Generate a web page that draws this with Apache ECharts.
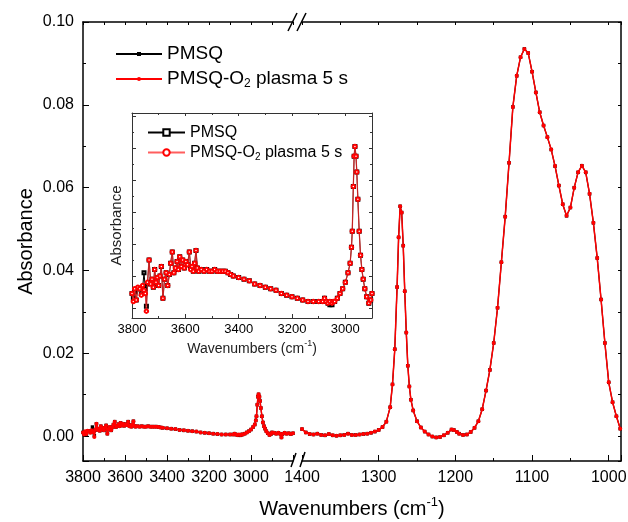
<!DOCTYPE html>
<html><head><meta charset="utf-8">
<script src="https://cdn.jsdelivr.net/npm/echarts@6/dist/echarts.min.js"></script>
<style>html,body{margin:0;padding:0;background:#fff}#c{width:628px;height:522px}</style>
</head><body><div id="c"></div>
<script>
// ---- data: high-wavenumber segment (3800-2800 cm-1) ----
const leftWn = [3800,3795,3790,3784,3778,3771,3765,3760,3755,3750,
  3746,3742,3736,3730,3725,3720,3715,3710,3705,3700,
  3695,3690,3684,3678,3672,3666,3660,3655,3649,3643,
  3637,3631,3626,3621,3615,3610,3604,3598,3592,3585,
  3580,3575,3570,3565,3560,3555,3550,3540,3530,3520,
  3510,3500,3490,3480,3470,3460,3450,3440,3430,3420,
  3400,3380,3360,3340,3320,3300,3280,3260,3240,3220,
  3200,3180,3160,3140,3120,3100,3085,3078,3072,3065,
  3058,3050,3045,3040,3030,3020,3010,3000,2990,2982,
  2977,2974,2970,2967,2964,2960,2957,2953,2948,2943,
  2938,2933,2927,2920,2912,2905,2900,2890,2880,2870,
  2862,2855,2850,2840,2830,2820,2810,2800];
const plasmaLeft = [0.0009,0.0004,0.0012,0.0005,0.0013,0.0012,0.0008,0.0014,0.0011,0.0009,
  -0.0002,0.0016,0.0030,0.0015,0.0018,0.0013,0.0024,0.0016,0.0019,0.0014,
  0.0020,0.0026,0.0006,0.0018,0.0022,0.0014,0.0021,0.0028,0.0035,0.0022,
  0.0025,0.0029,0.0024,0.0032,0.0026,0.0030,0.0025,0.0029,0.0027,0.0035,
  0.0024,0.0026,0.0023,0.0028,0.0036,0.0025,0.0023,0.0024,0.0023,0.0024,
  0.0023,0.0023,0.0024,0.0023,0.0023,0.0023,0.0023,0.0022,0.0021,0.0020,
  0.0019,0.0018,0.0017,0.0015,0.0014,0.0013,0.0012,0.0011,0.0009,0.0008,
  0.0007,0.0006,0.0005,0.0004,0.0004,0.0004,0.0004,0.0006,0.0004,0.0003,
  0.0004,0.0003,0.0004,0.0004,0.0006,0.0009,0.0012,0.0016,0.0022,0.0028,
  0.0038,0.0048,0.0076,0.0095,0.0101,0.0095,0.0085,0.0068,0.0048,0.0033,
  0.0024,0.0018,0.0012,0.0007,0.0003,0.0005,0.0009,0.0008,0.0006,0.0008,
  0.0006,-0.0003,0.0005,0.0008,0.0006,0.0007,0.0005,0.0007];
const pmsqLeft = [0.0009,0.0006,0.0010,0.0005,0.0012,0.0012,0.0009,0.0013,0.0022,0.0012,
  0.0001,0.0015,0.0030,0.0016,0.0018,0.0013,0.0024,0.0016,0.0019,0.0014,
  0.0020,0.0026,0.0006,0.0018,0.0022,0.0014,0.0021,0.0028,0.0035,0.0022,
  0.0025,0.0029,0.0024,0.0032,0.0026,0.0030,0.0025,0.0029,0.0027,0.0035,
  0.0026,0.0026,0.0023,0.0028,0.0036,0.0025,0.0023,0.0024,0.0023,0.0024,
  0.0023,0.0023,0.0024,0.0023,0.0023,0.0023,0.0023,0.0022,0.0021,0.0020,
  0.0019,0.0018,0.0017,0.0015,0.0014,0.0013,0.0012,0.0011,0.0009,0.0008,
  0.0007,0.0006,0.0005,0.0004,0.0004,0.0004,0.0004,0.0006,0.0004,0.0003,
  0.0002,0.0002,0.0004,0.0004,0.0006,0.0009,0.0012,0.0016,0.0022,0.0028,
  0.0038,0.0048,0.0076,0.0095,0.0101,0.0095,0.0085,0.0068,0.0048,0.0033,
  0.0024,0.0018,0.0012,0.0007,0.0003,0.0005,0.0009,0.0008,0.0006,0.0008,
  0.0006,-0.0003,0.0005,0.0008,0.0006,0.0007,0.0005,0.0007];

// ---- data: fingerprint segment (1400-985 cm-1) ----
const rightWn = [1400,1395,1390,1385,1380,1375,1370,1365,1360,1355,
  1350,1345,1340,1335,1330,1325,1320,1315,1310,1305,
  1300,1295,1290,1285,1282,1279,1276,1274,1272,1270,
  1268,1266,1264,1262,1260,1258,1255,1250,1245,1240,
  1235,1230,1225,1220,1215,1210,1205,1202,1198,1195,
  1190,1185,1180,1175,1170,1165,1160,1155,1150,1145,
  1140,1135,1130,1125,1120,1115,1110,1105,1100,1095,
  1090,1085,1080,1075,1070,1065,1060,1055,1050,1045,
  1040,1035,1030,1025,1020,1015,1010,1005,1000,995,
  990,985];
const plasmaRight = [0.0017,0.0009,0.0005,0.0004,0.0006,0.0003,0.0002,0.0005,0.0002,0.0001,
  0.0002,0.0003,0.0006,0.0003,0.0003,0.0004,0.0005,0.0006,0.0008,0.0011,
  0.0015,0.0022,0.0035,0.0070,0.0125,0.0210,0.0360,0.0480,0.0555,0.0540,
  0.0460,0.0350,0.0250,0.0170,0.0120,0.0088,0.0062,0.0036,0.0021,0.0011,
  0.0004,-0.0001,-0.0003,-0.0002,0.0002,0.0008,0.0016,0.0015,0.0010,0.0006,
  0.0003,0.0004,0.0010,0.0020,0.0036,0.0065,0.0110,0.0160,0.0225,0.0310,
  0.0420,0.0530,0.0660,0.0795,0.0870,0.0915,0.0935,0.0925,0.0880,0.0830,
  0.0782,0.0750,0.0722,0.0692,0.0652,0.0605,0.0560,0.0532,0.0552,0.0600,
  0.0637,0.0653,0.0637,0.0585,0.0515,0.0430,0.0330,0.0225,0.0130,0.0082,
  0.0048,0.0018];
const pmsqRight = [0.0017,0.0009,0.0005,0.0004,0.0006,0.0003,0.0002,0.0005,0.0002,0.0001,
  0.0002,0.0003,0.0006,0.0003,0.0003,0.0004,0.0005,0.0006,0.0008,0.0011,
  0.0015,0.0022,0.0035,0.0070,0.0125,0.0210,0.0360,0.0480,0.0555,0.0540,
  0.0460,0.0350,0.0250,0.0170,0.0120,0.0088,0.0062,0.0036,0.0021,0.0011,
  0.0004,-0.0001,-0.0003,-0.0002,0.0002,0.0008,0.0016,0.0015,0.0010,0.0006,
  0.0003,0.0004,0.0010,0.0020,0.0036,0.0065,0.0110,0.0160,0.0225,0.0310,
  0.0420,0.0530,0.0660,0.0795,0.0870,0.0915,0.0935,0.0925,0.0880,0.0830,
  0.0782,0.0750,0.0722,0.0692,0.0652,0.0605,0.0560,0.0532,0.0552,0.0600,
  0.0637,0.0653,0.0637,0.0585,0.0515,0.0430,0.0330,0.0225,0.0130,0.0082,
  0.0048,0.0018];

const seriesNames = ['PMSQ', 'PMSQ-O2 plasma 5 s'];
const insetNames = ['PMSQ (inset)', 'PMSQ-O2 plasma 5 s (inset)'];
const legendLabels = {
  'PMSQ': 'PMSQ',
  'PMSQ-O2 plasma 5 s': 'PMSQ-O{sub|2} plasma 5 s',
  'PMSQ (inset)': 'PMSQ',
  'PMSQ-O2 plasma 5 s (inset)': 'PMSQ-O{sub|2} plasma 5 s'
};

// ---- layout ----
const FONT = '"Liberation Sans", Arial, Helvetica, sans-serif';
const G0 = {left: 83, top: 22, width: 210, height: 439};
const G1 = {left: 302, top: 22, width: 319, height: 439};
const G2 = {left: 132, top: 113, width: 240, height: 205};
const pairs = (w, v) => w.map((x, i) => [x, v[i]]);
const plain = v => String(v);

function axisCommon(color, lw, major, minor) {
  return {
    axisLine: {show: true, onZero: false, lineStyle: {color: color, width: lw}},
    axisTick: {show: true, inside: true, length: major, lineStyle: {color: color, width: 1}},
    minorTick: {show: true, splitNumber: 2, length: minor, lineStyle: {color: color, width: 1}},
    splitLine: {show: false}, minorSplitLine: {show: false}
  };
}
const mainLbl = {fontSize: 16, color: '#000', fontFamily: FONT};
const insetLbl = {fontSize: 13, color: '#000', fontFamily: FONT};

const xAxis = [
  Object.assign({gridIndex: 0, type: 'value', min: 2800, max: 3800, interval: 200, inverse: true, position: 'bottom',
    axisLabel: Object.assign({margin: 9, showMinLabel: false, formatter: plain}, mainLbl)}, axisCommon('#000', 1.5, 6, 3)),
  Object.assign({gridIndex: 0, type: 'value', min: 2800, max: 3800, interval: 200, inverse: true, position: 'top',
    axisLabel: {show: false}}, axisCommon('#000', 1.5, 3, 3)),
  Object.assign({gridIndex: 1, type: 'value', min: 984, max: 1400, inverse: true, position: 'bottom',
    axisLabel: Object.assign({margin: 9, showMinLabel: false, formatter: plain}, mainLbl)}, axisCommon('#000', 1.5, 6, 3)),
  Object.assign({gridIndex: 1, type: 'value', min: 984, max: 1400, inverse: true, position: 'top',
    axisLabel: {show: false}}, axisCommon('#000', 1.5, 3, 3)),
  Object.assign({gridIndex: 2, type: 'value', min: 2900, max: 3800, inverse: true, position: 'bottom',
    axisLabel: Object.assign({margin: 5, showMinLabel: false, formatter: plain}, insetLbl),
    name: 'Wavenumbers (cm{sup|-1})', nameLocation: 'middle', nameGap: 21,
    nameTextStyle: {fontSize: 14, color: '#222', fontFamily: FONT, lineHeight: 20,
      rich: {sup: {fontSize: 9, lineHeight: 9, verticalAlign: 'top', fontFamily: FONT, color: '#222'}}}},
    axisCommon('#333', 1, 4, 2)),
  Object.assign({gridIndex: 2, type: 'value', min: 2900, max: 3800, inverse: true, position: 'top',
    axisLabel: {show: false}}, axisCommon('#333', 1, 3, 2))
];
const yAxis = [
  Object.assign({gridIndex: 0, type: 'value', min: -0.006, max: 0.10, splitNumber: 5, position: 'left',
    axisLabel: Object.assign({margin: 9, showMinLabel: false, formatter: v => v.toFixed(2)}, mainLbl),
    name: 'Absorbance', nameLocation: 'middle', nameGap: 47,
    nameTextStyle: {fontSize: 20, color: '#000', fontFamily: FONT}}, axisCommon('#000', 1.5, 6, 3)),
  Object.assign({gridIndex: 1, type: 'value', min: -0.006, max: 0.10, splitNumber: 5, position: 'right',
    axisLabel: {show: false}}, axisCommon('#000', 1.5, 3, 3)),
  Object.assign({gridIndex: 2, type: 'value', min: -0.00063, max: 0.0122, splitNumber: 6, position: 'left',
    axisLabel: {show: false}, name: 'Absorbance', nameLocation: 'middle', nameGap: 8,
    nameTextStyle: {fontSize: 15, color: '#222', fontFamily: FONT, padding: [0, 20, 0, 0]}}, axisCommon('#333', 1, 4, 2)),
  Object.assign({gridIndex: 2, type: 'value', min: -0.00063, max: 0.0122, splitNumber: 6, position: 'right',
    axisLabel: {show: false}}, axisCommon('#333', 1, 3, 2))
];

function mainSeries(name, xi, yi, data, black) {
  return {
    name: name, type: 'line', xAxisIndex: xi, yAxisIndex: yi, data: data,
    symbol: black ? 'rect' : 'circle', symbolSize: black ? 3.5 : 4,
    lineStyle: {color: black ? '#000' : '#ff0000', width: black ? 1.2 : 1.5},
    itemStyle: {color: black ? '#000' : '#ff0000'},
    z: black ? 2 : 3, clip: true, animation: false, silent: true
  };
}

const series = [
  mainSeries(seriesNames[0], 0, 0, pairs(leftWn, pmsqLeft), true),
  mainSeries(seriesNames[0], 2, 1, pairs(rightWn, pmsqRight), true),
  mainSeries(seriesNames[1], 0, 0, pairs(leftWn, plasmaLeft), false),
  mainSeries(seriesNames[1], 2, 1, pairs(rightWn, plasmaRight), false),
  {name: insetNames[0], type: 'line', xAxisIndex: 4, yAxisIndex: 2, data: pairs(leftWn, pmsqLeft),
   symbol: 'emptyRect', symbolSize: 3, lineStyle: {color: '#000', width: 1}, itemStyle: {color: '#000', borderWidth: 1},
   z: 2, clip: true, silent: true},
  {name: insetNames[1], type: 'line', xAxisIndex: 4, yAxisIndex: 2, data: pairs(leftWn, plasmaLeft),
   symbol: 'emptyCircle', symbolSize: 3.5, lineStyle: {color: 'rgba(255,40,40,0.75)', width: 1.3},
   itemStyle: {color: '#ff0000', borderWidth: 1.5}, z: 3, clip: true, silent: true}
];

const legendFmt = n => legendLabels[n];

const chart = echarts.init(document.getElementById('c'), null, {renderer: 'canvas'});
const bx = G0.left + G0.width, by = G0.top + G0.height;
const gridOpt = g => Object.assign({containLabel: false, outerBoundsMode: 'none'}, g);
chart.setOption({
  animation: false,
  backgroundColor: '#fff',
  grid: [gridOpt(G0), gridOpt(G1), gridOpt(G2)],
  xAxis: xAxis, yAxis: yAxis, series: series,
  legend: [
    {data: seriesNames, orient: 'vertical', left: 115, top: 43, padding: 0, itemWidth: 46, itemHeight: 5, itemGap: 3,
     selectedMode: false, formatter: legendFmt,
     textStyle: {fontSize: 19, color: '#000', fontFamily: FONT, lineHeight: 22,
       rich: {sub: {fontSize: 12, lineHeight: 12, verticalAlign: 'bottom', fontFamily: FONT, color: '#000'}}}},
    {data: insetNames, orient: 'vertical', left: 147, top: 123, padding: 0, itemWidth: 37, itemHeight: 8, itemGap: 1,
     selectedMode: false, formatter: legendFmt,
     textStyle: {fontSize: 16, color: '#000', fontFamily: FONT, lineHeight: 19,
       rich: {sub: {fontSize: 10, lineHeight: 10, verticalAlign: 'bottom', fontFamily: FONT, color: '#000'}}}}
  ],
  graphic: [
    {type: 'text', x: (G0.left + G1.left + G1.width) / 2, y: 509, z: 10,
     style: {text: 'Wavenumbers (cm{sup|-1})', fontSize: 20, fontFamily: FONT, fill: '#000', lineHeight: 26,
       align: 'center', verticalAlign: 'middle',
       rich: {sup: {fontSize: 13, lineHeight: 13, verticalAlign: 'top', fontFamily: FONT, fill: '#000'}}}},
    {type: 'line', z: 10, shape: {x1: bx - 5, y1: G0.top + 9, x2: bx + 4, y2: G0.top - 9}, style: {stroke: '#000', lineWidth: 1.5}},
    {type: 'line', z: 10, shape: {x1: bx + 4, y1: G0.top + 9, x2: bx + 13, y2: G0.top - 9}, style: {stroke: '#000', lineWidth: 1.5}},
    {type: 'line', z: 10, shape: {x1: bx - 2, y1: by + 6, x2: bx + 3, y2: by - 8}, style: {stroke: '#000', lineWidth: 1.5}},
    {type: 'line', z: 10, shape: {x1: bx + 7, y1: by + 6, x2: bx + 12, y2: by - 9}, style: {stroke: '#000', lineWidth: 1.5}}
  ]
});
</script></body></html>
